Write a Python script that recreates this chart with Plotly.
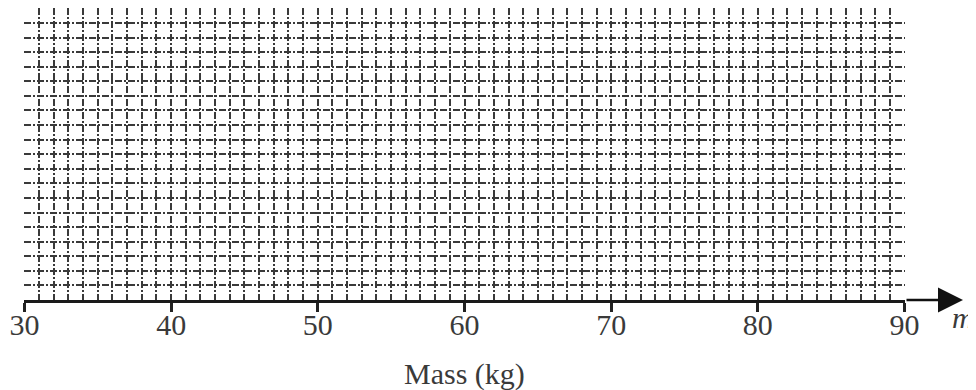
import plotly.graph_objects as go

# axis values
mass_ticks = [30, 40, 50, 60, 70, 80, 90]
mass_range = [30, 90]
rows_range = [0, 20]

# the page body adds an 8px margin, so the figure is drawn 8px in from the corner
off = 8
W, H = 976 - off, 390 - off
# pixel positions of the grid box in the reference (screen coords, minus the offset)
left_px, right_px = 24 - off, 905 - off
top_px, bottom_px = 8 - off, 300 - off

pad = 0.03  # small pad so the border gridlines get drawn
fig = go.Figure(go.Scatter(x=mass_range, y=rows_range, mode="markers",
                           marker=dict(opacity=0), hoverinfo="skip", showlegend=False))

grid_col = "#3a3a3a"
grid_dash = "7px,2px,2px,2px"
serif = "Liberation Serif, Times New Roman, serif"
txt_col = "#3a3a3a"

fig.update_layout(
    width=W, height=H,
    margin=dict(l=0, r=0, t=0, b=0, autoexpand=False),
    paper_bgcolor="white",
    plot_bgcolor="white",
    font=dict(family=serif, size=30, color=txt_col),
    xaxis=dict(
        domain=[left_px / W, right_px / W],
        range=[mass_range[0] - pad, mass_range[1] + pad],
        tickvals=mass_ticks,
        ticks="outside", ticklen=9, tickwidth=2.5, tickcolor="#222222",
        ticklabelstandoff=-13,
        showline=True, linecolor="#1a1a1a", linewidth=3,
        showgrid=True, gridcolor=grid_col, gridwidth=1.8, griddash=grid_dash,
        minor=dict(dtick=1, showgrid=True, gridcolor=grid_col, gridwidth=1.8, griddash=grid_dash),
        zeroline=False, automargin=False,
        tickfont=dict(family=serif, size=30, color=txt_col),
    ),
    yaxis=dict(
        domain=[(H - bottom_px) / H, (H - top_px) / H],
        range=[rows_range[0], rows_range[1] + pad],
        dtick=1,
        showticklabels=False,
        showgrid=True, gridcolor=grid_col, gridwidth=1.8, griddash=grid_dash,
        zeroline=False, showline=False, automargin=False,
    ),
)

# arrow extending the mass axis beyond 90
fig.add_annotation(
    x=(963 - off) / W, y=(H - bottom_px) / H, xref="paper", yref="paper",
    ax=right_px - (963 - off), ay=0,
    showarrow=True, arrowhead=2, arrowsize=2, arrowwidth=2.5, arrowcolor="#111111",
    text="",
)

fig.add_annotation(
    x=(963 - off) / W, y=(H - (317 - off)) / H, xref="paper", yref="paper",
    xanchor="center", yanchor="middle",
    text="<i>m</i>", showarrow=False,
    font=dict(family=serif, size=30, color=txt_col),
)

fig.add_annotation(
    x=((left_px + right_px) / 2) / W, y=(H - (374 - off)) / H, xref="paper", yref="paper",
    xanchor="center", yanchor="middle",
    text="Mass (kg)", showarrow=False,
    font=dict(family=serif, size=30, color=txt_col),
)

fig.write_html("out.html")
